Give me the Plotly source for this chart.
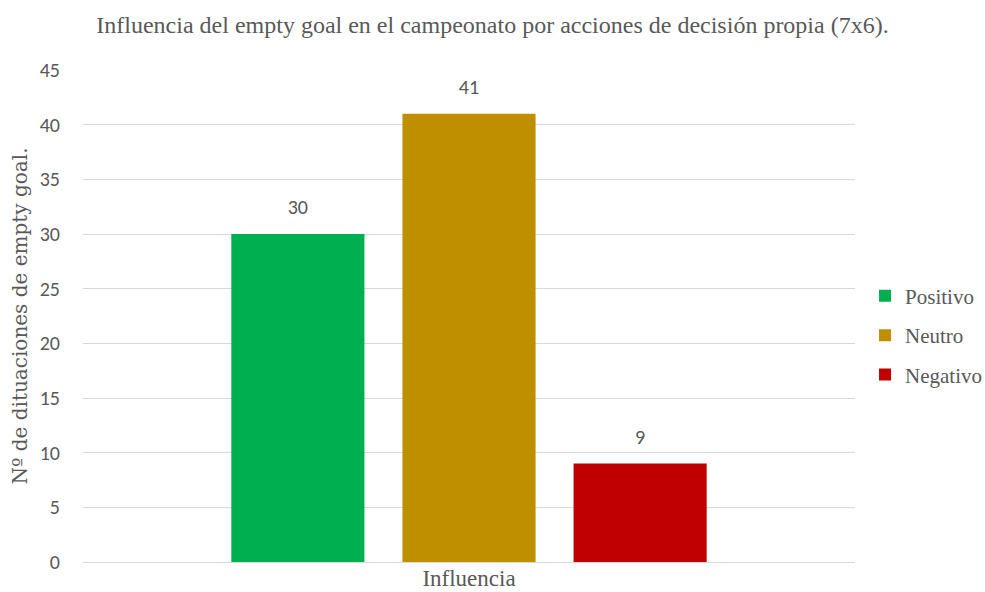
import plotly.graph_objects as go

# Chart data
categories = ["Influencia"]
series_names = ["Positivo", "Neutro", "Negativo"]
series_values = [[30], [41], [9]]
series_colors = ["#00B050", "#BF8F00", "#C00000"]
y_ticks = [0, 5, 10, 15, 20, 25, 30, 35, 40, 45]

text_gray = "#595959"
serif = "Liberation Serif, Times New Roman, serif"
wide_serif = "DejaVu Serif, serif"
sans = "Carlito, Open Sans, Liberation Sans, sans-serif"

fig = go.Figure()
for name, vals, col in zip(series_names, series_values, series_colors):
    fig.add_trace(go.Bar(
        x=categories, y=vals, name=name,
        marker=dict(color=col, line=dict(width=0)),
        offsetgroup=name, legendgroup=name,
    ))
# Value labels: text-only scatter sharing each bar's offset group;
# the invisible marker lifts the label a little above the bar top.
for name, vals in zip(series_names, series_values):
    fig.add_trace(go.Scatter(
        x=categories, y=vals, mode="markers+text",
        text=[str(v) for v in vals], textposition="top center",
        textfont=dict(family=sans, size=20, color=text_gray),
        marker=dict(size=22, opacity=0),
        offsetgroup=name, showlegend=False, hoverinfo="skip",
        cliponaxis=False,
    ))

fig.update_layout(
    width=985, height=592,
    margin=dict(l=83, r=130, t=70, b=30, autoexpand=False),
    paper_bgcolor="white", plot_bgcolor="white",
    barmode="group", bargap=0.335, bargroupgap=0.222,
    scattermode="group", scattergap=0.335,
    title=dict(
        text="Influencia del empty goal en el campeonato por acciones de decisión propia (7x6).",
        font=dict(family=serif, size=24, color=text_gray),
        x=0.5, xanchor="center", y=0.958, yanchor="middle",
    ),
    legend=dict(
        x=1.013, y=0.461, xanchor="left", yanchor="middle",
        font=dict(family=serif, size=21, color=text_gray),
        traceorder="grouped", tracegroupgap=9,
        itemwidth=30,
    ),
    showlegend=True,
)

fig.update_xaxes(
    automargin=False,
    showline=True, linecolor="#D9D9D9", linewidth=1,
    ticks="", tickfont=dict(family=serif, size=23, color=text_gray),
    ticklabelstandoff=-5,
    showgrid=False,
)
fig.update_yaxes(
    automargin=True,
    range=[0, 45], tickvals=y_ticks,
    showgrid=True, gridcolor="#D9D9D9", gridwidth=1,
    zeroline=False, showline=False, ticks="outside", ticklen=18, tickcolor="white",
    tickfont=dict(family=sans, size=20, color=text_gray),
    title=dict(text="Nº de dituaciones de empty goal.",
               font=dict(family=wide_serif, size=20, color=text_gray), standoff=6),
)

fig.write_html("out.html")
